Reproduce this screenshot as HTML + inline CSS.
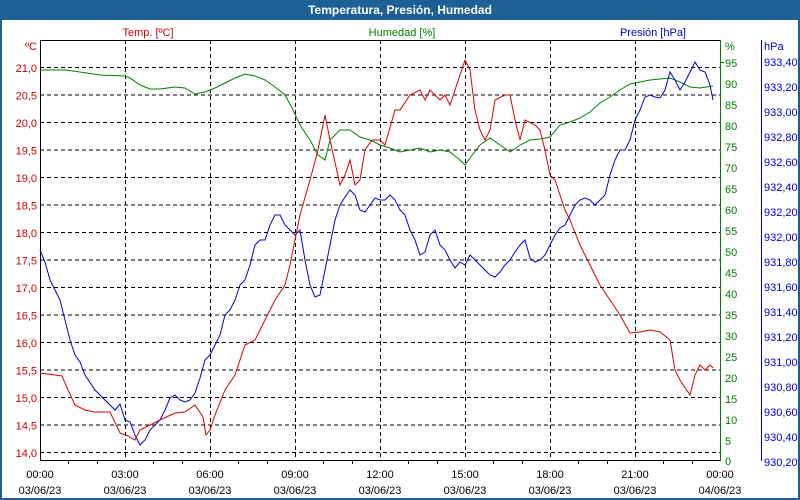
<!DOCTYPE html>
<html><head><meta charset="utf-8"><style>
html,body{margin:0;padding:0;background:#fff}
svg{display:block}
text{font-family:"Liberation Sans","DejaVu Sans",sans-serif;font-size:11px}
</style></head><body>
<svg width="800" height="500" xmlns="http://www.w3.org/2000/svg">
<rect x="0" y="0" width="800" height="500" fill="#fff"/>
<rect x="1" y="1" width="798" height="498" fill="none" stroke="#1e5f96" stroke-width="2"/>
<rect x="0" y="0" width="800" height="20" fill="#1e5f96"/>
<text x="400" y="14" text-anchor="middle" fill="#fff" font-weight="bold" style="font-size:12px">Temperatura, Presión, Humedad</text>

<g stroke="#000" stroke-dasharray="4,3" stroke-width="1">
<line x1="40" y1="67.5" x2="720" y2="67.5"/><line x1="40" y1="95" x2="720" y2="95"/>
<line x1="40" y1="122.5" x2="720" y2="122.5"/><line x1="40" y1="150" x2="720" y2="150"/>
<line x1="40" y1="177.5" x2="720" y2="177.5"/><line x1="40" y1="205" x2="720" y2="205"/>
<line x1="40" y1="232.5" x2="720" y2="232.5"/><line x1="40" y1="260" x2="720" y2="260"/>
<line x1="40" y1="287.5" x2="720" y2="287.5"/><line x1="40" y1="315" x2="720" y2="315"/>
<line x1="40" y1="342.5" x2="720" y2="342.5"/><line x1="40" y1="370" x2="720" y2="370"/>
<line x1="40" y1="397.5" x2="720" y2="397.5"/><line x1="40" y1="425" x2="720" y2="425"/>
<line x1="40" y1="452.5" x2="720" y2="452.5"/>
<line x1="125.5" y1="40" x2="125.5" y2="460"/><line x1="210.5" y1="40" x2="210.5" y2="460"/>
<line x1="295.5" y1="40" x2="295.5" y2="460"/><line x1="380.5" y1="40" x2="380.5" y2="460"/>
<line x1="465.5" y1="40" x2="465.5" y2="460"/><line x1="550.5" y1="40" x2="550.5" y2="460"/>
<line x1="635.5" y1="40" x2="635.5" y2="460"/>
</g>
<line x1="40" y1="40.5" x2="720" y2="40.5" stroke="#000"/>
<line x1="40.5" y1="40" x2="40.5" y2="461" stroke="#000"/>
<line x1="40" y1="460.5" x2="720" y2="460.5" stroke="#000"/>
<g stroke="#000">
<line x1="68.5" y1="460" x2="68.5" y2="464"/><line x1="97.5" y1="460" x2="97.5" y2="464"/>
<line x1="153.5" y1="460" x2="153.5" y2="464"/><line x1="182.5" y1="460" x2="182.5" y2="464"/>
<line x1="238.5" y1="460" x2="238.5" y2="464"/><line x1="267.5" y1="460" x2="267.5" y2="464"/>
<line x1="323.5" y1="460" x2="323.5" y2="464"/><line x1="352.5" y1="460" x2="352.5" y2="464"/>
<line x1="408.5" y1="460" x2="408.5" y2="464"/><line x1="437.5" y1="460" x2="437.5" y2="464"/>
<line x1="493.5" y1="460" x2="493.5" y2="464"/><line x1="522.5" y1="460" x2="522.5" y2="464"/>
<line x1="578.5" y1="460" x2="578.5" y2="464"/><line x1="607.5" y1="460" x2="607.5" y2="464"/>
<line x1="663.5" y1="460" x2="663.5" y2="464"/><line x1="692.5" y1="460" x2="692.5" y2="464"/>
</g>
<line x1="720.5" y1="40" x2="720.5" y2="461" stroke="#008000"/>
<line x1="761.5" y1="40" x2="761.5" y2="461" stroke="#0000cc"/>

<g fill="#000" text-anchor="middle">
<text x="40" y="478">00:00</text><text x="40" y="494">03/06/23</text>
<text x="125" y="478">03:00</text><text x="125" y="494">03/06/23</text>
<text x="210" y="478">06:00</text><text x="210" y="494">03/06/23</text>
<text x="295" y="478">09:00</text><text x="295" y="494">03/06/23</text>
<text x="380" y="478">12:00</text><text x="380" y="494">03/06/23</text>
<text x="465" y="478">15:00</text><text x="465" y="494">03/06/23</text>
<text x="550" y="478">18:00</text><text x="550" y="494">03/06/23</text>
<text x="635" y="478">21:00</text><text x="635" y="494">03/06/23</text>
<text x="720" y="478">00:00</text><text x="720" y="494">04/06/23</text>
</g>

<g fill="#d00000" text-anchor="end">
<text x="37" y="50">ºC</text>
<text x="37" y="72">21,0</text><text x="37" y="99.5">20,5</text><text x="37" y="127">20,0</text>
<text x="37" y="154.5">19,5</text><text x="37" y="182">19,0</text><text x="37" y="209.5">18,5</text>
<text x="37" y="237">18,0</text><text x="37" y="264.5">17,5</text><text x="37" y="292">17,0</text>
<text x="37" y="319.5">16,5</text><text x="37" y="347">16,0</text><text x="37" y="374.5">15,5</text>
<text x="37" y="402">15,0</text><text x="37" y="429.5">14,5</text><text x="37" y="457">14,0</text>
</g>
<text x="148" y="36" fill="#d00000" text-anchor="middle">Temp. [ºC]</text>
<text x="402" y="36" fill="#008000" text-anchor="middle">Humedad [%]</text>
<text x="686" y="36" fill="#0000cc" text-anchor="end">Presión [hPa]</text>

<g fill="#008000">
<text x="725" y="50">%</text>
<text x="725" y="67">95</text><text x="725" y="88">90</text><text x="725" y="109">85</text>
<text x="725" y="130">80</text><text x="725" y="151">75</text><text x="725" y="172">70</text>
<text x="725" y="193">65</text><text x="725" y="214">60</text><text x="725" y="235">55</text>
<text x="725" y="256">50</text><text x="725" y="277">45</text><text x="725" y="298">40</text>
<text x="725" y="319">35</text><text x="725" y="340">30</text><text x="725" y="361">25</text>
<text x="725" y="382">20</text><text x="725" y="403">15</text><text x="725" y="424">10</text>
<text x="725" y="445">5</text><text x="725" y="465">0</text>
</g>
<g stroke="#008000"><line x1="720" y1="62.5" x2="724" y2="62.5"/></g>
<g fill="#0000cc">
<text x="764" y="50">hPa</text>
<text x="764" y="66">933,40</text><text x="764" y="91">933,20</text><text x="764" y="116">933,00</text>
<text x="764" y="141">932,80</text><text x="764" y="166">932,60</text><text x="764" y="191">932,40</text>
<text x="764" y="216">932,20</text><text x="764" y="241">932,00</text><text x="764" y="266">931,80</text>
<text x="764" y="291">931,60</text><text x="764" y="316">931,40</text><text x="764" y="341">931,20</text>
<text x="764" y="366">931,00</text><text x="764" y="391">930,80</text><text x="764" y="416">930,60</text>
<text x="764" y="441">930,40</text><text x="764" y="466">930,20</text>
</g>

<polyline fill="none" stroke="#008000" stroke-width="1" points="40,70 65,70 80,72 100,75 125,76 130,78 140,85 150,89 160,89 175,87 185,88 195,94 205,92 215,88 225,83 235,78 245,74 255,76 265,80 275,87 285,95 292,108 300,125 310,140 318,155 325,160 330,140 340,130 350,130 360,137 370,140 380,145 390,148 400,152 410,150 420,148 430,152 440,150 450,152 460,160 465,165 470,158 480,145 490,138 500,145 510,152 520,145 530,140 540,139 550,137 560,125 570,122 580,118 590,112 600,103 610,97 620,90 630,84 640,82 650,80 660,79 670,78 680,82 690,87 700,88 713,86"/>
<polyline fill="none" stroke="#0000dd" stroke-width="1" points="40,250 45,262 50,280 55,290 60,300 65,320 70,340 75,355 80,362 85,375 95,390 105,400 115,410 120,404 125,420 130,422 135,435 140,445 145,440 150,430 155,425 160,420 165,410 170,398 175,395 180,400 185,402 190,400 195,393 200,378 205,360 210,355 215,345 220,335 225,315 230,310 235,300 240,285 245,280 250,265 255,245 260,240 265,240 270,225 275,215 280,215 285,225 290,230 295,235 300,230 305,260 310,285 315,297 320,295 325,270 330,245 335,220 340,205 345,197 350,190 355,195 360,210 365,212 370,205 375,198 380,200 385,200 390,195 395,200 400,210 405,215 410,230 415,240 420,255 425,252 430,235 435,230 440,245 445,250 450,260 455,268 460,262 465,265 470,255 475,260 480,265 485,270 490,275 495,277 500,272 505,265 510,260 515,252 520,245 525,240 530,258 535,262 540,260 545,255 550,245 555,235 560,228 565,225 570,215 575,205 580,200 585,198 590,200 595,205 600,200 605,195 610,175 615,160 620,150 625,150 630,140 635,120 640,110 645,97 650,95 655,97 660,98 665,90 670,72 675,80 680,90 685,82 690,72 695,62 700,70 705,72 710,85 713,100"/>
<polyline fill="none" stroke="#dd0000" stroke-width="1" points="40,373 55,375 62,376 68,390 75,405 85,410 95,412 110,412 120,433 128,436 135,440 140,430 150,425 160,420 175,413 185,412 195,405 203,417 206,435 210,430 215,415 225,390 235,375 245,345 255,340 265,320 275,300 285,285 290,265 295,240 300,215 310,180 318,150 325,115 330,140 340,185 345,175 350,160 355,185 360,180 365,150 372,140 380,140 385,145 395,110 400,110 410,95 420,90 425,100 430,90 440,100 445,95 450,105 455,90 460,75 465,60 470,70 475,110 480,130 485,140 490,130 495,100 505,95 510,95 515,120 520,140 525,120 535,125 540,130 545,150 550,175 555,180 560,195 565,210 570,220 580,245 590,265 600,285 610,300 620,315 630,333 640,332 650,330 660,332 670,340 675,370 680,380 690,395 695,375 700,365 705,370 710,365 713,368"/>
</svg>
</body></html>
